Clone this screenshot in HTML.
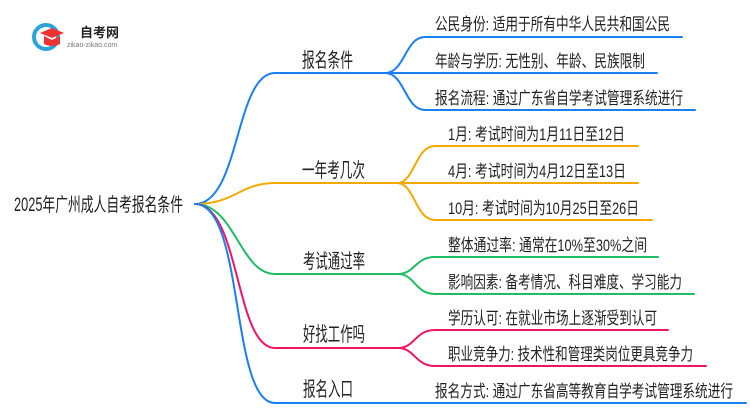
<!DOCTYPE html><html><head><meta charset="utf-8"><style>
body{margin:0;width:750px;height:410px;background:#fff;overflow:hidden}
svg text{font-family:"Liberation Sans","Noto Sans CJK SC",sans-serif;fill:#222}
</style></head><body>
<svg width="750" height="410" viewBox="0 0 750 410" fill="none" stroke-width="2">
<g stroke-linecap="round">
<path d="M195 204 C240 204 235 73 275 73 L385 73" stroke="#1a7ff5"/>
<path d="M195 204 C235 204 240 183 275 183 L397 183" stroke="#f5a800"/>
<path d="M195 204 C235 204 240 274 275 274 L398 274" stroke="#1dbd62"/>
<path d="M195 204 C240 204 235 348 275 348 L398 348" stroke="#ef1563"/>
<path d="M195 204 C245 204 230 403 275 403 L746 403" stroke="#1a7ff5"/>
<g stroke="#1a7ff5"><path d="M385 73 C405 73 405 37 425 37 L682 37"/><path d="M385 73 L657 73"/><path d="M385 73 C405 73 405 110 425 110 L695 110"/></g>
<g stroke="#f5a800"><path d="M397 183 C415 183 415 146 435 146 L638 146"/><path d="M397 183 L638 183"/><path d="M397 183 C415 183 415 220 435 220 L652 220"/></g>
<g stroke="#1dbd62"><path d="M398 274 C415 274 415 257 435 257 L658 257"/><path d="M398 274 C415 274 415 294 435 294 L694 294"/></g>
<g stroke="#ef1563"><path d="M398 348 C415 348 415 330 435 330 L668 330"/><path d="M398 348 C415 348 415 366 435 366 L706 366"/></g>
</g>
<circle cx="46" cy="37" r="12" stroke="#2aa4d8" stroke-width="4"/>
<path d="M40 33 L52 28 L64 33 L52 38 Z" fill="#e33" stroke="none"/>
<path d="M44 36 L44 44 Q52 48 60 44 L60 36 L52 40 Z" fill="#e33" stroke="none"/>
<text x="80" y="37" font-size="13" font-weight="bold">自考网</text>
<text x="67" y="47" font-size="7" style="fill:#777">zikao-zikao.com</text>
<g font-size="19">
<text x="14" y="211" textLength="169" lengthAdjust="spacingAndGlyphs">2025年广州成人自考报名条件</text>
<text x="302" y="67" font-size="20" textLength="51" lengthAdjust="spacingAndGlyphs">报名条件</text>
<text x="302" y="177" font-size="20" textLength="63" lengthAdjust="spacingAndGlyphs">一年考几次</text>
<text x="303" y="268" font-size="20" textLength="62" lengthAdjust="spacingAndGlyphs">考试通过率</text>
<text x="303" y="341" font-size="20" textLength="62" lengthAdjust="spacingAndGlyphs">好找工作吗</text>
<text x="303" y="396" font-size="20" textLength="50" lengthAdjust="spacingAndGlyphs">报名入口</text>
</g>
<g font-size="17">
<text x="435" y="30" textLength="235" lengthAdjust="spacingAndGlyphs">公民身份: 适用于所有中华人民共和国公民</text>
<text x="435" y="67" textLength="210" lengthAdjust="spacingAndGlyphs">年龄与学历: 无性别、年龄、民族限制</text>
<text x="435" y="104" textLength="248" lengthAdjust="spacingAndGlyphs">报名流程: 通过广东省自学考试管理系统进行</text>
<text x="448" y="140" textLength="177" lengthAdjust="spacingAndGlyphs">1月: 考试时间为1月11日至12日</text>
<text x="448" y="177" textLength="178" lengthAdjust="spacingAndGlyphs">4月: 考试时间为4月12日至13日</text>
<text x="448" y="214" textLength="191" lengthAdjust="spacingAndGlyphs">10月: 考试时间为10月25日至26日</text>
<text x="448" y="251" textLength="199" lengthAdjust="spacingAndGlyphs">整体通过率: 通常在10%至30%之间</text>
<text x="448" y="288" textLength="234" lengthAdjust="spacingAndGlyphs">影响因素: 备考情况、科目难度、学习能力</text>
<text x="448" y="324" textLength="209" lengthAdjust="spacingAndGlyphs">学历认可: 在就业市场上逐渐受到认可</text>
<text x="448" y="360" textLength="245" lengthAdjust="spacingAndGlyphs">职业竞争力: 技术性和管理类岗位更具竞争力</text>
<text x="435" y="397" textLength="298" lengthAdjust="spacingAndGlyphs">报名方式: 通过广东省高等教育自学考试管理系统进行</text>
</g>
</svg></body></html>
